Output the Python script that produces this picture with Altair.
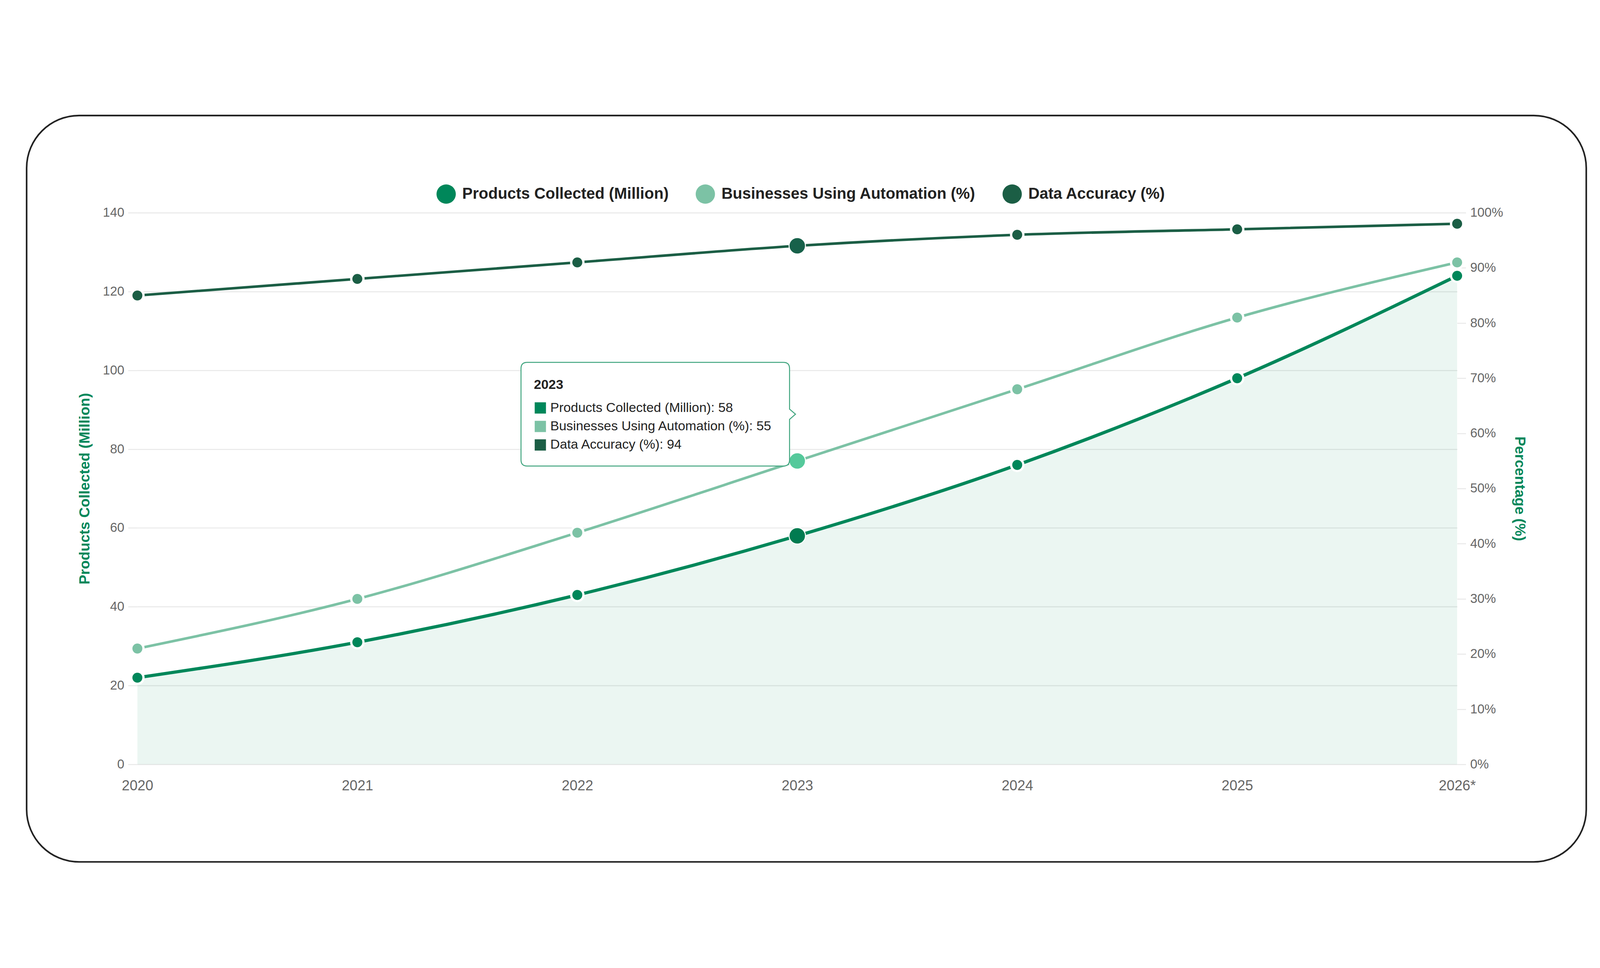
import altair as alt
import pandas as pd

# ---------------- data ----------------
YEARS = ["2020", "2021", "2022", "2023", "2024", "2025", "2026*"]
PRODUCTS = [22, 31, 43, 58, 76, 98, 124]          # Products Collected (Million)
AUTOMATION = [21, 30, 42, 55, 68, 81, 91]         # Businesses Using Automation (%)
ACCURACY = [85, 88, 91, 94, 96, 97, 98]           # Data Accuracy (%)
SERIES = ["Products Collected (Million)", "Businesses Using Automation (%)", "Data Accuracy (%)"]
LEFT_TICKS = list(range(0, 141, 20))
RIGHT_TICKS = list(range(0, 101, 10))
HOVER_YEAR = "2023"

COLORS = ["#00875A", "#7CC2A5", "#1B5E45"]
HOVER_COLORS = ["#007B50", "#55C99B", "#17614A"]
GREEN = "#00875A"
FONT = "Liberation Sans"
LEFT_MAX, RIGHT_MAX = 140, 100

prod_df = pd.DataFrame({"year": YEARS, "value": PRODUCTS, "series": SERIES[0]})
pct_df = pd.concat([
    pd.DataFrame({"year": YEARS, "value": AUTOMATION, "series": SERIES[1]}),
    pd.DataFrame({"year": YEARS, "value": ACCURACY, "series": SERIES[2]}),
], ignore_index=True)

hi = YEARS.index(HOVER_YEAR)
ratio = LEFT_MAX / RIGHT_MAX
anchor = (PRODUCTS[hi] + AUTOMATION[hi] * ratio + ACCURACY[hi] * ratio) / 3
tip_df = pd.DataFrame({"year": [HOVER_YEAR], "anchor": [anchor]})
row_vals = [PRODUCTS[hi], AUTOMATION[hi], ACCURACY[hi]]

W, H = 4099, 1714

# ---------------- encodings ----------------
x_enc = alt.X("year:O", sort=YEARS, scale=alt.Scale(type="point", padding=0),
              axis=alt.Axis(title=None, labelAngle=0, ticks=False, domain=False, grid=False,
                            labelFontSize=44, labelPadding=45, labelColor="#666666"))

y_left = alt.Y("value:Q", scale=alt.Scale(domain=[0, LEFT_MAX], nice=False, zero=True),
               axis=alt.Axis(values=LEFT_TICKS, title=SERIES[0], titleX=-163, titleY=H / 2,
                             titleAngle=-90, titleAlign="center", titleBaseline="middle",
                             titleFontSize=45, titleFontWeight="bold", titleColor=GREEN,
                             tickSize=29, labelPadding=12, grid=True, domain=False,
                             labelFontSize=40, labelFlush=False))

y_right = alt.Y("value:Q", scale=alt.Scale(domain=[0, RIGHT_MAX], nice=False, zero=True),
                axis=alt.Axis(orient="right", values=RIGHT_TICKS, labelExpr="datum.value + '%'",
                              title="Percentage (%)", titleX=194, titleY=H / 2, titleAngle=90,
                              titleAlign="center", titleBaseline="middle", titleFontSize=45,
                              titleFontWeight="bold", titleColor=GREEN, tickSize=27,
                              labelPadding=13, grid=False, domain=False, labelFontSize=40,
                              labelFlush=False))

cscale = alt.Scale(domain=SERIES, range=COLORS)
hscale = alt.Scale(domain=SERIES, range=HOVER_COLORS)
legend = alt.Legend(title=None, orient="none", legendX=929, legendY=-88, direction="horizontal",
                    symbolType="circle", symbolSize=3600, symbolStrokeWidth=0,
                    labelFontSize=48.5, labelFontWeight="bold", labelFont=FONT, labelColor="#222222",
                    labelLimit=2000, columnPadding=83, labelOffset=20, padding=0)

is_hover = alt.datum.year == HOVER_YEAR
not_hover = alt.datum.year != HOVER_YEAR

PT_SIZE, PT_STROKE = 1444, 7
HV_SIZE, HV_STROKE = 2601, 3

# ---------------- left layer (products) ----------------
border = alt.Chart(pd.DataFrame({"k": [0]})).mark_rect(
    fill="white", fillOpacity=0, stroke="#222222", strokeWidth=5, cornerRadius=163
).encode(x=alt.value(-344), x2=alt.value(4500), y=alt.value(-302), y2=alt.value(2017))

base_p = alt.Chart(prod_df)
area = base_p.mark_area(color=COLORS[0], fillOpacity=0.08, interpolate="monotone").encode(x=x_enc, y=y_left)
line_p = base_p.mark_line(color=COLORS[0], strokeWidth=10, interpolate="monotone").encode(x=x_enc, y=y_left)
pts_p = base_p.mark_circle(size=PT_SIZE, opacity=1, stroke="white", strokeWidth=PT_STROKE).encode(
    x=x_enc, y=y_left, color=alt.Color("series:N", scale=cscale, legend=legend)
).transform_filter(not_hover)
hov_p = base_p.mark_circle(size=HV_SIZE, opacity=1, stroke="white", strokeWidth=HV_STROKE).encode(
    x=x_enc, y=y_left, fill=alt.Fill("series:N", scale=hscale, legend=None)
).transform_filter(is_hover)
left = alt.layer(border, area, line_p, pts_p, hov_p)

# ---------------- right layer (percentages) ----------------
base_r = alt.Chart(pct_df)
line_a = base_r.mark_line(color=COLORS[1], strokeWidth=8, interpolate="monotone").encode(
    x=x_enc, y=y_right).transform_filter(alt.datum.series == SERIES[1])
line_c = base_r.mark_line(color=COLORS[2], strokeWidth=8, interpolate="monotone").encode(
    x=x_enc, y=y_right).transform_filter(alt.datum.series == SERIES[2])
pts_r = base_r.mark_circle(size=PT_SIZE, opacity=1, stroke="white", strokeWidth=PT_STROKE).encode(
    x=x_enc, y=y_right, color=alt.Color("series:N", scale=cscale, legend=legend)
).transform_filter(not_hover)
hov_r = base_r.mark_circle(size=HV_SIZE, opacity=1, stroke="white", strokeWidth=HV_STROKE).encode(
    x=x_enc, y=y_right, fill=alt.Fill("series:N", scale=hscale, legend=None)
).transform_filter(is_hover)
right = alt.layer(line_a, line_c, pts_r, hov_r)

# ---------------- tooltip layer ----------------
y_tip = alt.Y("anchor:Q", scale=alt.Scale(domain=[0, LEFT_MAX], nice=False), axis=None)
# tooltip outline (units of 100 px, relative to the caret anchor)
L, R, T, B, r = -8.58, -0.24, -1.61, 1.61, 0.19
tip_path = (f"M {L + r} {T} H {R - r} Q {R} {T} {R} {T + r} V -0.16 L -0.055 0 L {R} 0.16 "
            f"V {B - r} Q {R} {B} {R - r} {B} H {L + r} Q {L} {B} {L} {B - r} "
            f"V {T + r} Q {L} {T} {L + r} {T} Z")
base_t = alt.Chart(tip_df)
box = base_t.mark_point(shape=tip_path, size=40000, filled=True, fill="white", opacity=1,
                        fillOpacity=1, stroke="#3FA47E", strokeWidth=3, strokeOpacity=1).encode(
    x=x_enc, y=y_tip)
title_t = base_t.mark_text(text=HOVER_YEAR, align="left", baseline="alphabetic", dx=-818, dy=-79,
                           font=FONT, fontSize=41, fontWeight="bold", color="#222222").encode(
    x=x_enc, y=y_tip)
tip_layers = [box, title_t]
row_dy = [-19.5, 38, 95.5]
for i, s in enumerate(SERIES):
    tip_layers.append(base_t.mark_point(shape="square", filled=True, size=1225, opacity=1,
                                        color=COLORS[i], xOffset=-798, yOffset=row_dy[i]).encode(
        x=x_enc, y=y_tip))
    tip_layers.append(base_t.mark_text(text=f"{s}: {row_vals[i]}", align="left", baseline="middle",
                                       dx=-767, dy=row_dy[i], font=FONT, fontSize=41,
                                       color="#222222").encode(x=x_enc, y=y_tip))
tip = alt.layer(*tip_layers)

# padding chosen so that, with the card border as the outer bound, the plot area
# starts at (416, 390) inside the SVG
chart = alt.layer(left, right, tip).resolve_scale(y="independent").properties(
    width=W, height=H,
    autosize=alt.AutoSizeParams(type="pad"),
    padding={"left": 70, "top": 86, "right": 30, "bottom": 30},
    background="white",
).configure_view(stroke=None).configure_axis(
    labelFont=FONT, titleFont=FONT, labelColor="#666666", gridColor="#E8E8E8", gridWidth=3,
    tickColor="#E8E8E8", tickWidth=3,
)

chart.save("out.html", embed_options={"renderer": "svg", "actions": False})
